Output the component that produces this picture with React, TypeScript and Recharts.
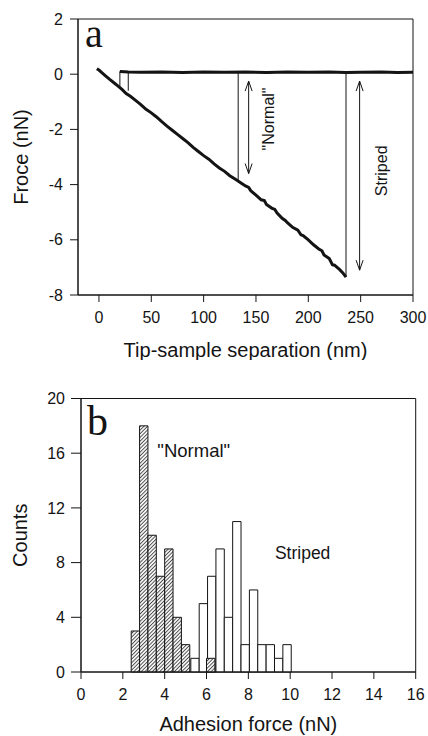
import React from 'react';
import {
  ComposedChart,
  Line,
  XAxis,
  YAxis,
  ReferenceLine,
  ReferenceDot,
  ReferenceArea,
} from 'recharts';

// ---------- Panel a: force curve ----------
const sepTicks = [0, 50, 100, 150, 200, 250, 300];
const forceTicks = [-8, -6, -4, -2, 0, 2];

const retractSlope = [
  { x: -2, y: 0.2 }, { x: 0, y: 0.15 }, { x: 3, y: 0.05 }, { x: 6, y: -0.05 },
  { x: 10, y: -0.18 }, { x: 14, y: -0.3 }, { x: 18, y: -0.42 }, { x: 22, y: -0.55 },
  { x: 26, y: -0.7 }, { x: 30, y: -0.8 }, { x: 35, y: -0.95 }, { x: 40, y: -1.1 },
  { x: 45, y: -1.27 }, { x: 50, y: -1.4 }, { x: 55, y: -1.55 }, { x: 60, y: -1.72 },
  { x: 65, y: -1.88 }, { x: 70, y: -2.03 }, { x: 75, y: -2.18 }, { x: 80, y: -2.33 },
  { x: 85, y: -2.48 }, { x: 90, y: -2.65 }, { x: 95, y: -2.8 }, { x: 100, y: -2.95 },
  { x: 105, y: -3.08 }, { x: 110, y: -3.25 }, { x: 115, y: -3.4 }, { x: 120, y: -3.52 },
  { x: 125, y: -3.68 }, { x: 130, y: -3.8 }, { x: 135, y: -3.92 }, { x: 140, y: -4.05 },
  { x: 143, y: -4.1 }, { x: 145, y: -4.22 }, { x: 150, y: -4.38 }, { x: 155, y: -4.55 },
  { x: 158, y: -4.58 }, { x: 160, y: -4.72 }, { x: 165, y: -4.85 }, { x: 168, y: -4.9 },
  { x: 170, y: -5.02 }, { x: 175, y: -5.22 }, { x: 178, y: -5.3 }, { x: 180, y: -5.38 },
  { x: 185, y: -5.55 }, { x: 190, y: -5.65 }, { x: 193, y: -5.82 }, { x: 195, y: -5.85 },
  { x: 200, y: -6.0 }, { x: 205, y: -6.18 }, { x: 210, y: -6.33 }, { x: 213, y: -6.4 },
  { x: 215, y: -6.55 }, { x: 220, y: -6.68 }, { x: 223, y: -6.9 }, { x: 225, y: -6.92 },
  { x: 230, y: -7.08 }, { x: 233, y: -7.2 }, { x: 236, y: -7.35 },
];

const flatLine = [
  { x: 20, y: 0.1 }, { x: 28, y: 0.08 }, { x: 40, y: 0.07 }, { x: 60, y: 0.08 },
  { x: 80, y: 0.06 }, { x: 100, y: 0.08 }, { x: 120, y: 0.07 }, { x: 140, y: 0.08 },
  { x: 160, y: 0.06 }, { x: 180, y: 0.08 }, { x: 200, y: 0.07 }, { x: 220, y: 0.08 },
  { x: 236, y: 0.06 }, { x: 250, y: 0.07 }, { x: 270, y: 0.08 }, { x: 285, y: 0.06 },
  { x: 300, y: 0.07 },
];

const snapLoop = [
  { x: 20, y: -0.45 }, { x: 20, y: 0.1 }, { x: 28, y: 0.1 }, { x: 28, y: -0.6 },
];

// jump and guide segments: [x, yTop, yBottom]
const jumpSeg = [236, 0.06, -7.35];
const normalGuide = [133, 0.06, -3.87];
const normalArrow = [143, -0.25, -3.6];
const stripedArrow = [249, -0.25, -7.1];

// ---------- Panel b: histogram ----------
const countTicks = [0, 4, 8, 12, 16, 20];
const forceAxisTicks = [0, 2, 4, 6, 8, 10, 12, 14, 16];
const binWidth = 0.4;
const normalStarts = [2.4, 2.8, 3.2, 3.6, 4.0, 4.4, 4.8, 6.0];
const normalCounts = [3, 18, 10, 7, 9, 4, 2, 1];
const stripedStarts = [5.25, 5.65, 6.05, 6.45, 6.85, 7.25, 7.65, 8.05, 8.45, 8.85, 9.25, 9.65];
const stripedCounts = [1, 5, 7, 9, 4, 11, 2, 6, 2, 2, 1, 2];

const histPoints = [
  ...normalStarts.map((s, i) => ({ x: s + binWidth / 2, y: normalCounts[i] })),
  ...stripedStarts.map((s, i) => ({ x: s + binWidth / 2, y: stripedCounts[i] })),
].sort((a, b) => a.x - b.x);

const SANS = '"Liberation Sans", Arial, sans-serif';
const SERIF = '"Liberation Serif", "Times New Roman", serif';
const INK = '#141414';

const tickStyle = { fill: INK, fontSize: 16, fontFamily: SANS };

const arrowShape = (props: any) => {
  const { x1, y1, x2, y2 } = props;
  const top = Math.min(y1, y2);
  const bot = Math.max(y1, y2);
  const hw = 3.5;
  const hl = 10;
  return (
    <g stroke={INK} strokeWidth={1} fill="none">
      <line x1={x1} y1={top} x2={x2} y2={bot} />
      <polyline points={`${x1 - hw},${top + hl} ${x1},${top} ${x1 + hw},${top + hl}`} />
      <polyline points={`${x1 - hw},${bot - hl} ${x1},${bot} ${x1 + hw},${bot - hl}`} />
    </g>
  );
};

const thinShape = (props: any) => (
  <line x1={props.x1} y1={props.y1} x2={props.x2} y2={props.y2} stroke={INK} strokeWidth={1} />
);

const rotText = (txt: string, size: number) => (props: any) => (
  <text
    x={props.cx}
    y={props.cy}
    transform={`rotate(-90 ${props.cx} ${props.cy})`}
    textAnchor="middle"
    dominantBaseline="central"
    fontFamily={SANS}
    fontSize={size}
    fill={INK}
  >
    {txt}
  </text>
);

const plainText = (txt: string, size: number, family: string) => (props: any) => (
  <text x={props.cx} y={props.cy} textAnchor="start" dominantBaseline="central" fontFamily={family} fontSize={size} fill={INK}>
    {txt}
  </text>
);

const baseText = (txt: string, size: number, family: string) => (props: any) => (
  <text x={props.cx} y={props.cy} textAnchor="start" fontFamily={family} fontSize={size} fill={INK}>
    {txt}
  </text>
);

const yTitle = (txt: string, cx: number) => (props: any) => {
  const vb = props.viewBox;
  const cy = vb.y + vb.height / 2;
  return (
    <text
      x={cx}
      y={cy}
      transform={`rotate(-90 ${cx} ${cy})`}
      textAnchor="middle"
      dominantBaseline="central"
      fontFamily={SANS}
      fontSize={20}
      fill={INK}
    >
      {txt}
    </text>
  );
};

function PanelA() {
  return (
    <ComposedChart width={428} height={360} margin={{ top: 19, right: 15, bottom: 0, left: 0 }}>
      <XAxis
        type="number"
        dataKey="x"
        domain={[-20, 300]}
        ticks={sepTicks}
        allowDataOverflow
        height={65}
        tickSize={7}
        tickMargin={10}
        tick={tickStyle}
        stroke={INK}
        label={{ value: 'Tip-sample separation (nm)', position: 'insideBottom', offset: 3, fill: INK, fontSize: 20, fontFamily: SANS }}
      />
      <YAxis
        type="number"
        dataKey="y"
        domain={[-8, 2]}
        ticks={forceTicks}
        allowDataOverflow
        width={78}
        tickSize={8}
        tickMargin={7}
        tick={tickStyle}
        stroke={INK}
        label={{ content: yTitle('Froce (nN)', 21) }}
      />
      <ReferenceArea x1={-20} x2={300} y1={-8} y2={2} fill="none" stroke={INK} strokeWidth={1} />
      <ReferenceLine segment={[{ x: jumpSeg[0], y: jumpSeg[1] }, { x: jumpSeg[0], y: jumpSeg[2] }]} shape={thinShape} />
      <ReferenceLine segment={[{ x: normalGuide[0], y: normalGuide[1] }, { x: normalGuide[0], y: normalGuide[2] }]} shape={thinShape} />
      <ReferenceLine segment={[{ x: normalArrow[0], y: normalArrow[1] }, { x: normalArrow[0], y: normalArrow[2] }]} shape={arrowShape} />
      <ReferenceLine segment={[{ x: stripedArrow[0], y: stripedArrow[1] }, { x: stripedArrow[0], y: stripedArrow[2] }]} shape={arrowShape} />
      <Line data={snapLoop} dataKey="y" type="linear" stroke={INK} strokeWidth={1} dot={false} isAnimationActive={false} />
      <Line data={flatLine} dataKey="y" type="linear" stroke={INK} strokeWidth={3} dot={false} isAnimationActive={false} />
      <Line data={retractSlope} dataKey="y" type="linear" stroke={INK} strokeWidth={3} dot={false} isAnimationActive={false} />
      <ReferenceDot x={162} y={-1.62} r={0} shape={rotText('"Normal"', 16)} />
      <ReferenceDot x={270} y={-3.5} r={0} shape={rotText('Striped', 16)} />
      <ReferenceDot x={-13.4} y={1.0} r={0} shape={baseText('a', 40, SERIF)} />
    </ComposedChart>
  );
}

function PanelB() {
  return (
    <ComposedChart width={428} height={366} data={histPoints} margin={{ top: 27.5, right: 12.3, bottom: 0, left: 0 }}>
      <defs>
        <pattern id="hatch" patternUnits="userSpaceOnUse" width="2.6" height="2.6" patternTransform="rotate(45)">
          <rect width="2.6" height="2.6" fill="#f4f4f4" />
          <line x1="0" y1="0" x2="0" y2="2.6" stroke="#1e1e1e" strokeWidth="1.4" />
        </pattern>
      </defs>
      <XAxis
        type="number"
        dataKey="x"
        domain={[0, 16]}
        ticks={forceAxisTicks}
        allowDataOverflow
        height={65}
        tickSize={7}
        tickMargin={10}
        tick={tickStyle}
        stroke={INK}
        label={{ value: 'Adhesion force (nN)', position: 'insideBottom', offset: 6, fill: INK, fontSize: 20, fontFamily: SANS }}
      />
      <YAxis
        type="number"
        dataKey="y"
        domain={[0, 20]}
        ticks={countTicks}
        allowDataOverflow
        width={81}
        tickSize={10}
        tickMargin={6}
        tick={tickStyle}
        stroke={INK}
        label={{ content: yTitle('Counts', 20) }}
      />
      <Line dataKey="y" stroke="none" strokeWidth={0} dot={false} activeDot={false} isAnimationActive={false} />
      <ReferenceArea x1={0} x2={16} y1={0} y2={20} fill="none" stroke={INK} strokeWidth={1} />
      {stripedStarts.map((s, i) => (
        <ReferenceArea
          key={'s' + i}
          x1={s}
          x2={s + binWidth}
          y1={0}
          y2={stripedCounts[i]}
          fill="#ffffff"
          fillOpacity={1}
          stroke={INK}
          strokeWidth={1}
        />
      ))}
      {normalStarts.map((s, i) => (
        <ReferenceArea
          key={'n' + i}
          x1={s}
          x2={s + binWidth}
          y1={0}
          y2={normalCounts[i]}
          fill="url(#hatch)"
          fillOpacity={1}
          stroke={INK}
          strokeWidth={1}
        />
      ))}
      <ReferenceDot x={3.65} y={16.2} r={0} shape={plainText('"Normal"', 18.5, SANS)} />
      <ReferenceDot x={9.27} y={8.7} r={0} shape={plainText('Striped', 17.5, SANS)} />
      <ReferenceDot x={0.29} y={17.3} r={0} shape={baseText('b', 42, SERIF)} />
    </ComposedChart>
  );
}

export default function App() {
  return (
    <div style={{ position: 'absolute', left: 0, top: 0, width: 428, height: 736, background: '#ffffff', overflow: 'hidden' }}>
      <div style={{ position: 'absolute', left: 0, top: 0 }}>
        <PanelA />
      </div>
      <div style={{ position: 'absolute', left: 0, top: 371 }}>
        <PanelB />
      </div>
    </div>
  );
}
